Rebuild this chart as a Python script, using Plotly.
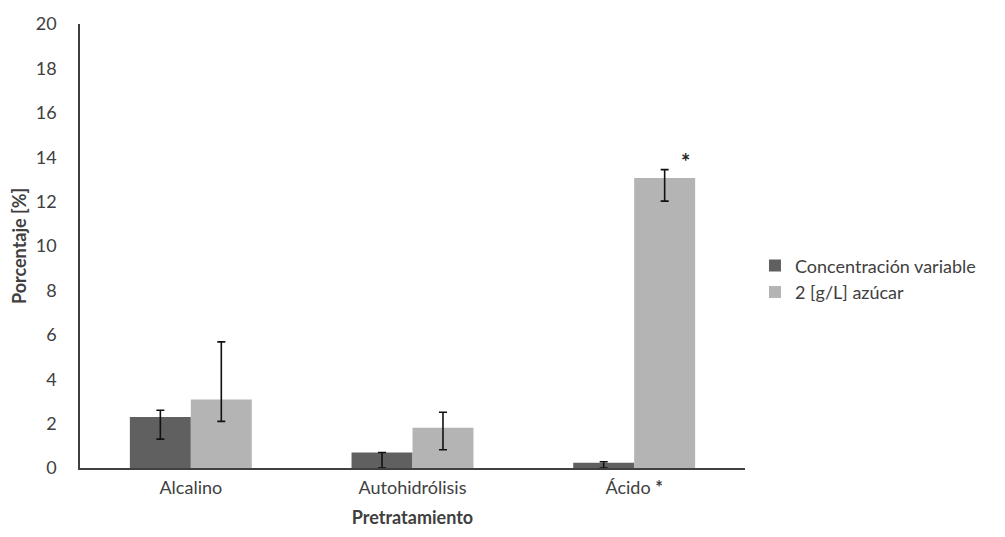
import plotly.graph_objects as go

# Pretreatment categories and yields (%)
categorias = ["Alcalino", "Autohidrólisis", "Ácido"]
etiquetas = ["Alcalino", "Autohidrólisis", "Ácido <b>*</b>"]

conc_variable = [2.3, 0.70, 0.24]
conc_var_err_sup = [0.3, 0.0, 0.04]
conc_var_err_inf = [1.0, 0.70, 0.24]

azucar_2gl = [3.08, 1.81, 13.06]
azucar_err_sup = [2.6, 0.7, 0.38]
azucar_err_inf = [0.98, 0.99, 1.04]

y_ticks = [0, 2, 4, 6, 8, 10, 12, 14, 16, 18, 20]

fuente = "Lato, Open Sans, sans-serif"
texto = "#404040"
gris_oscuro = "#606060"
gris_claro = "#b4b4b4"

fig = go.Figure()
fig.add_trace(go.Bar(
    name="Concentración variable", x=categorias, y=conc_variable,
    legendgroup="a",
    marker=dict(color=gris_oscuro, line=dict(width=0)),
    error_y=dict(type="data", symmetric=False, array=conc_var_err_sup,
                 arrayminus=conc_var_err_inf, color="#111111", thickness=1.6, width=4),
))
fig.add_trace(go.Bar(
    name="2 [g/L] azúcar", x=categorias, y=azucar_2gl,
    legendgroup="b",
    marker=dict(color=gris_claro, line=dict(width=0)),
    error_y=dict(type="data", symmetric=False, array=azucar_err_sup,
                 arrayminus=azucar_err_inf, color="#111111", thickness=1.6, width=4),
))

# Significance mark above the acid bar
fig.add_annotation(x="Ácido", y=13.8, text="<b>*</b>", showarrow=False,
                   xshift=51, font=dict(size=22, color="#222222", family=fuente),
                   yanchor="middle")

fig.update_layout(
    width=1005, height=537,
    margin=dict(l=80, r=260, t=22, b=69),
    paper_bgcolor="white", plot_bgcolor="white",
    barmode="group", bargap=0.45, bargroupgap=0,
    font=dict(family=fuente, size=18, color=texto),
    legend=dict(x=1.015, y=0.426, yanchor="middle", xanchor="left",
                font=dict(size=18, color=texto), itemwidth=30,
                tracegroupgap=3, traceorder="normal"),
    xaxis=dict(
        tickmode="array", tickvals=categorias, ticktext=etiquetas,
        showline=True, linecolor="#404040", linewidth=1.5,
        ticks="", showgrid=False,
        tickfont=dict(size=18, color=texto),
        ticklabelstandoff=3,
        title=dict(text="<b>Pretratamiento</b>", font=dict(size=18, color=texto),
                   standoff=14),
    ),
    yaxis=dict(
        range=[0, 20], tickvals=y_ticks,
        showline=True, linecolor="#404040", linewidth=1.5,
        ticks="", showgrid=False, zeroline=False,
        tickfont=dict(size=18, color=texto),
        ticklabelstandoff=18,
        title=dict(text="<b>Porcentaje [%]</b>", font=dict(size=18, color=texto),
                   standoff=4),
    ),
)

fig.write_html("out.html")
